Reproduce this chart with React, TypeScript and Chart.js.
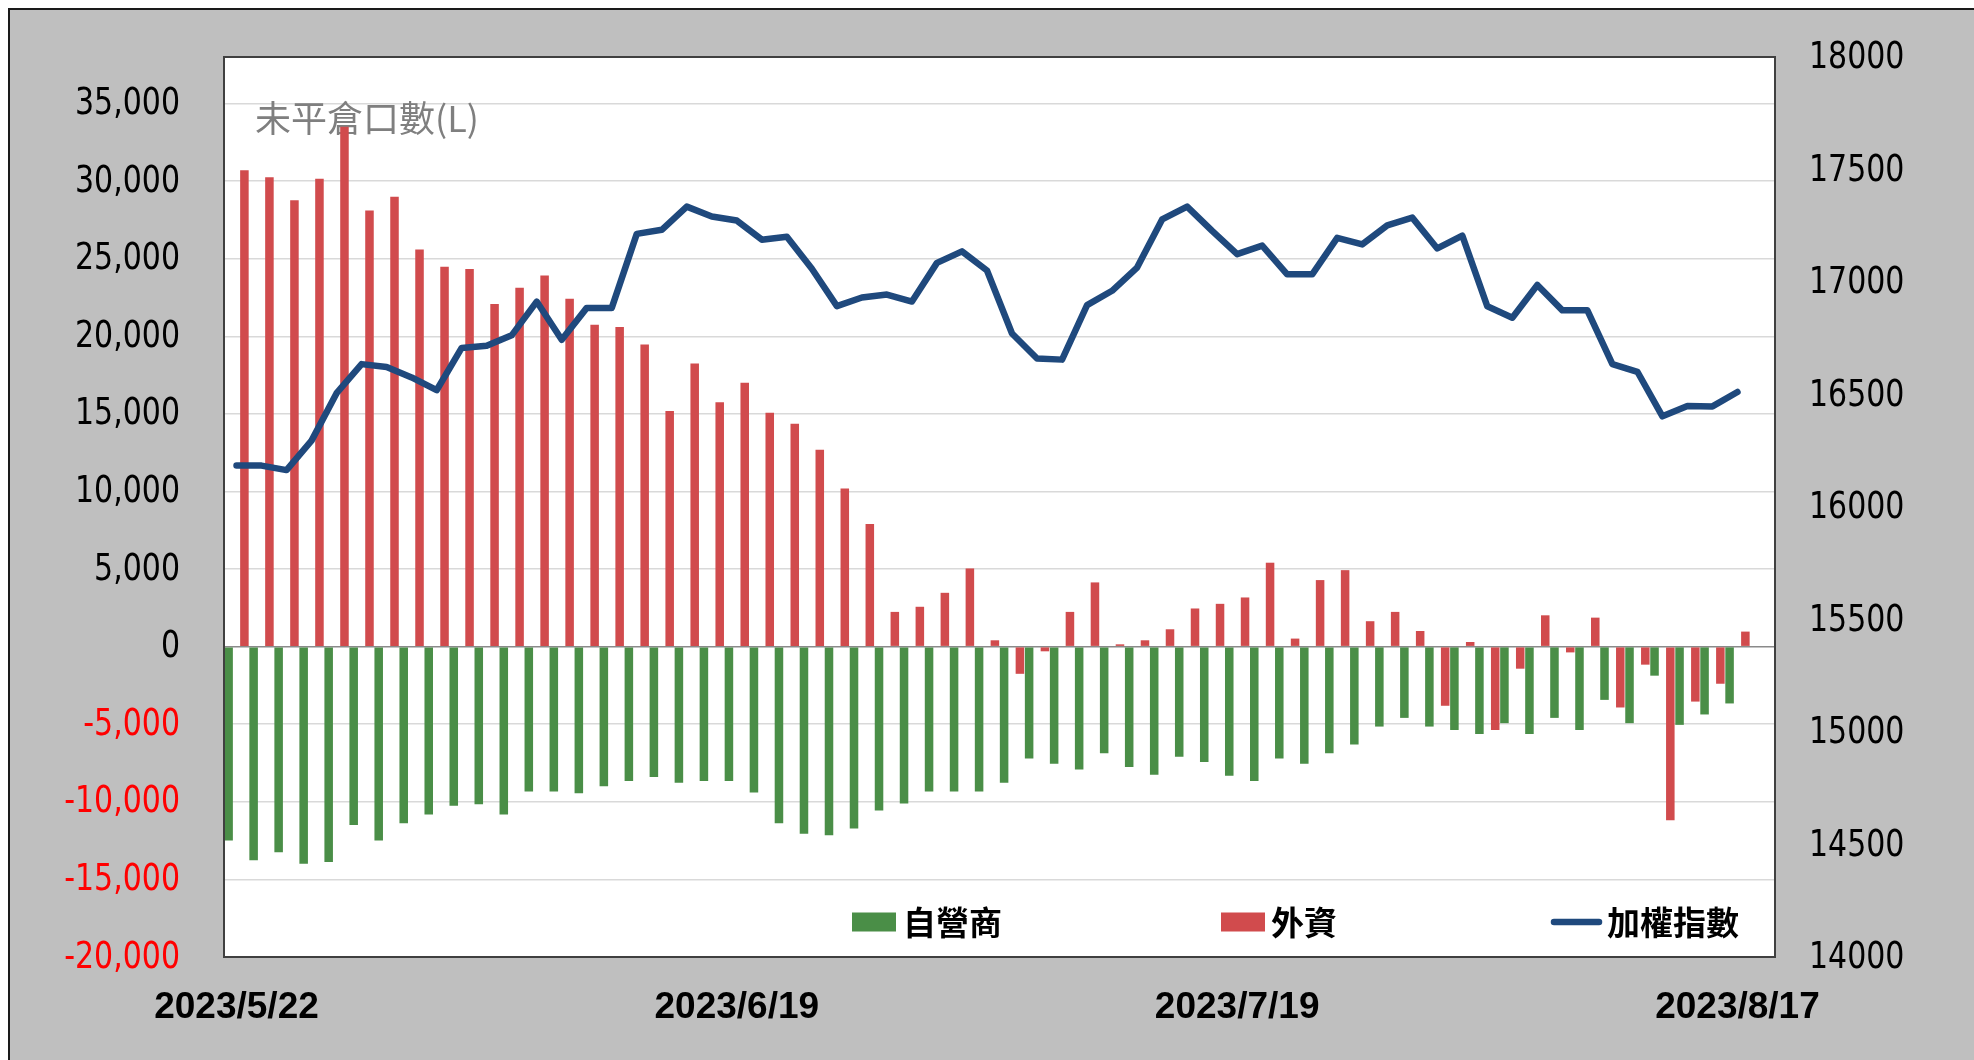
import React, { useEffect, useRef } from 'react';
import { Chart, registerables } from 'chart.js';

Chart.register(...registerables);

// Trading days (last slot is an empty spare category, as in the reference)
const dates = [
  '2023/5/22', '2023/5/23', '2023/5/24', '2023/5/25', '2023/5/26',
  '2023/5/29', '2023/5/30', '2023/5/31', '2023/6/1', '2023/6/2',
  '2023/6/5', '2023/6/6', '2023/6/7', '2023/6/8', '2023/6/9',
  '2023/6/12', '2023/6/13', '2023/6/14', '2023/6/15', '2023/6/16',
  '2023/6/19', '2023/6/20', '2023/6/21',
  '2023/6/26', '2023/6/27', '2023/6/28', '2023/6/29', '2023/6/30',
  '2023/7/3', '2023/7/4', '2023/7/5', '2023/7/6', '2023/7/7',
  '2023/7/10', '2023/7/11', '2023/7/12', '2023/7/13', '2023/7/14',
  '2023/7/17', '2023/7/18', '2023/7/19', '2023/7/20', '2023/7/21',
  '2023/7/24', '2023/7/25', '2023/7/26', '2023/7/27', '2023/7/28',
  '2023/7/31', '2023/8/1', '2023/8/2', '2023/8/4',
  '2023/8/7', '2023/8/8', '2023/8/9', '2023/8/10', '2023/8/11',
  '2023/8/14', '2023/8/15', '2023/8/16', '2023/8/17',
  '',
];

// 自營商 open interest (lots)
const dealerOI = [
  -12500, -13770, -13250, -13990, -13880, -11490, -12500, -11380, -10820, -10260,
  -10150, -10820, -9330, -9330, -9440, -8990, -8660, -8400, -8770, -8660,
  -8660, -9400, -11380, -12050, -12160, -11720, -10560, -10110, -9330, -9330,
  -9330, -8770, -7200, -7540, -7910, -6870, -7760, -8250, -7090, -7430,
  -8320, -8660, -7200, -7540, -6870, -6310, -5150, -4590, -5150, -5370,
  -5630, -4930, -5630, -4590, -5370, -3430, -4930, -1870, -5040, -4370,
  -3660,
];

// 外資 open interest (lots)
const foreignOI = [
  30700, 30250, 28770, 30150, 33500, 28100, 29000, 25600, 24480, 24330,
  22090, 23130, 23920, 22420, 20740, 20600, 19480, 15190, 18250, 15750,
  17010, 15070, 14360, 12690, 10190, 7910, 2240, 2570, 3470, 5040,
  410, -1750, -300, 2240, 4140, 150, 410, 1120, 2460, 2760,
  3170, 5410, 520, 4290, 4930, 1640, 2240, 1010, -3810, 300,
  -5370, -1420, 2020, -370, 1870, -3920, -1160, -11190, -3540, -2390,
  970,
];

// 加權指數
const taiex = [
  16184, 16184, 16164, 16295, 16506, 16635, 16622, 16576, 16519, 16707,
  16717, 16763, 16913, 16743, 16885, 16885, 17214, 17232, 17335, 17291,
  17273, 17188, 17201, 17059, 16893, 16931, 16944, 16913, 17085, 17136,
  17051, 16771, 16660, 16655, 16897, 16961, 17064, 17278, 17335, 17227,
  17124, 17162, 17034, 17034, 17196, 17167, 17252, 17286, 17149, 17206,
  16892, 16841, 16987, 16874, 16874, 16635, 16601, 16403, 16449, 16447,
  16511,
];

const leftTicks = [-20000, -15000, -10000, -5000, 0, 5000, 10000, 15000, 20000, 25000, 30000, 35000];
const rightTicks = [14000, 14500, 15000, 15500, 16000, 16500, 17000, 17500, 18000];

const seriesNames = ['自營商', '外資', '加權指數'];
const chartTitle = '未平倉口數(L)';
const leftAxisRange = [-20000, 38000];
const rightAxisRange = [14000, 18000];

const GREEN = '#4A8E47';
const RED = '#D14B4D';
const BLUE = '#1F497D';

const AREA = { left: 214, top: 47, right: 1765, bottom: 947 };
const TICK_FONT = '30px "DejaVu Sans"';
const TICK_STRETCH = 1.23;

function drawStretched(ctx: any, text: string, x: number, y: number, align: string, color: string) {
  ctx.save();
  ctx.translate(x, y);
  ctx.scale(1, TICK_STRETCH);
  ctx.font = TICK_FONT;
  ctx.textAlign = align;
  ctx.textBaseline = 'middle';
  ctx.fillStyle = color;
  ctx.fillText(text, 0, 0);
  ctx.restore();
}

const decorPlugin = {
  id: 'decor',
  beforeDraw(chart: any) {
    const { ctx, chartArea: a } = chart;
    ctx.save();
    ctx.fillStyle = '#ffffff';
    ctx.fillRect(a.left, a.top, a.right - a.left, a.bottom - a.top);
    ctx.restore();
  },
  beforeDatasetsDraw(chart: any) {
    const { ctx, chartArea: a } = chart;
    ctx.save();
    ctx.font = '36px "Noto Sans CJK TC"';
    ctx.fillStyle = '#7f7f7f';
    ctx.textBaseline = 'middle';
    ctx.textAlign = 'left';
    ctx.fillText(chartTitle, a.left + 31, a.top + 61);
    ctx.restore();
  },
  afterDraw(chart: any) {
    const { ctx, chartArea: a } = chart;
    // axis tick labels (slightly tall glyphs, as in the reference)
    const ys = chart.scales.y;
    leftTicks.forEach((v) => {
      drawStretched(ctx, v.toLocaleString('en-US'), a.left - 44, ys.getPixelForValue(v) + 1, 'right', v < 0 ? '#ff0000' : '#000000');
    });
    const yr = chart.scales.y1;
    rightTicks.forEach((v) => {
      drawStretched(ctx, String(v), a.right + 34, yr.getPixelForValue(v) + 1.5, 'left', '#000000');
    });

    ctx.save();
    // plot frame
    ctx.strokeStyle = '#404040';
    ctx.lineWidth = 2;
    ctx.strokeRect(a.left, a.top, a.right - a.left, a.bottom - a.top);
    // legend
    const ly = a.bottom - 35;
    ctx.font = 'bold 33px "Noto Sans CJK TC"';
    ctx.textBaseline = 'middle';
    ctx.textAlign = 'left';
    ctx.fillStyle = GREEN;
    ctx.fillRect(a.left + 628, ly - 9.5, 44, 19);
    ctx.fillStyle = '#000';
    ctx.fillText(seriesNames[0], a.left + 679, ly);
    ctx.fillStyle = RED;
    ctx.fillRect(a.left + 997, ly - 9.5, 44, 19);
    ctx.fillStyle = '#000';
    ctx.fillText(seriesNames[1], a.left + 1047, ly);
    ctx.strokeStyle = BLUE;
    ctx.lineWidth = 6.5;
    ctx.lineCap = 'round';
    ctx.beginPath();
    ctx.moveTo(a.left + 1330, ly);
    ctx.lineTo(a.left + 1375, ly);
    ctx.stroke();
    ctx.fillStyle = '#000';
    ctx.fillText(seriesNames[2], a.left + 1383, ly);
    ctx.restore();
  },
};

export default function App() {
  const ref = useRef<HTMLCanvasElement>(null);

  useEffect(() => {
    const canvas = ref.current;
    if (!canvas) return;
    const options: any = {
      responsive: false,
      maintainAspectRatio: false,
      devicePixelRatio: 1,
      animation: false,
      layout: { padding: { top: AREA.top, left: 0, right: 0, bottom: 0 } },
      plugins: {
        legend: { display: false },
        tooltip: { enabled: false },
        title: { display: false },
      },
      scales: {
        x: {
          type: 'category',
          offset: true,
          grid: { display: false, drawTicks: false },
          border: { display: false },
          ticks: {
            autoSkip: false,
            maxRotation: 0,
            minRotation: 0,
            padding: 29,
            color: '#000',
            font: { family: '"Liberation Sans"', size: 37, weight: 'bold' },
            callback: function (this: any, val: any, idx: number) {
              return idx % 20 === 0 ? this.getLabelForValue(val) : '';
            },
          },
          afterFit: (s: any) => {
            s.height = 1050 - AREA.bottom;
          },
        },
        y: {
          type: 'linear',
          position: 'left',
          min: leftAxisRange[0],
          max: leftAxisRange[1],
          bounds: 'data',
          afterBuildTicks: (s: any) => {
            s.ticks = leftTicks.map((v) => ({ value: v }));
          },
          grid: {
            drawTicks: false,
            color: (c: any) => (c.tick && c.tick.value === 0 ? '#8a8a8a' : '#d9d9d9'),
            lineWidth: 1.5,
          },
          border: { display: false },
          ticks: { display: false },
          afterFit: (s: any) => {
            s.width = AREA.left;
          },
        },
        y1: {
          type: 'linear',
          position: 'right',
          min: rightAxisRange[0],
          max: rightAxisRange[1],
          bounds: 'data',
          afterBuildTicks: (s: any) => {
            s.ticks = rightTicks.map((v) => ({ value: v }));
          },
          grid: { display: false, drawTicks: false },
          border: { display: false },
          ticks: { display: false },
          afterFit: (s: any) => {
            s.width = 1964 - AREA.right;
          },
        },
      },
    };
    const chart = new Chart(canvas, {
      type: 'bar',
      data: {
        labels: dates,
        datasets: [
          {
            type: 'bar',
            label: seriesNames[0],
            data: dealerOI,
            backgroundColor: GREEN,
            yAxisID: 'y',
            order: 1,
            categoryPercentage: 1.263,
            barPercentage: 0.54,
          } as any,
          {
            type: 'bar',
            label: seriesNames[1],
            data: foreignOI,
            backgroundColor: RED,
            yAxisID: 'y',
            order: 1,
            categoryPercentage: 1.263,
            barPercentage: 0.54,
          } as any,
          {
            type: 'line',
            label: seriesNames[2],
            data: taiex,
            borderColor: BLUE,
            backgroundColor: BLUE,
            borderWidth: 6.5,
            pointRadius: 0,
            tension: 0,
            borderJoinStyle: 'round',
            borderCapStyle: 'round',
            yAxisID: 'y1',
            order: 0,
          } as any,
        ],
      },
      options,
      plugins: [decorPlugin],
    });
    // nudge the layout so that the plot area lands exactly where intended
    for (let i = 0; i < 4; i++) {
      const ca = chart.chartArea;
      const dTop = AREA.top - ca.top;
      const dBottom = AREA.bottom - ca.bottom;
      if (Math.abs(dTop) < 0.5 && Math.abs(dBottom) < 0.5) break;
      const pad = (chart.config.options as any).layout.padding;
      pad.top = Math.max(0, pad.top + dTop);
      pad.bottom = Math.max(0, pad.bottom - dBottom);
      chart.update();
    }
    return () => chart.destroy();
  }, []);

  return (
    <div
      style={{
        position: 'fixed',
        left: 8,
        top: 8,
        width: 1966,
        height: 1052,
        boxSizing: 'border-box',
        borderLeft: '2px solid #1a1a1a',
        borderTop: '2px solid #1a1a1a',
        background: '#bfbfbf',
        overflow: 'hidden',
      }}
    >
      <canvas ref={ref} width={1964} height={1050} style={{ display: 'block', width: 1964, height: 1050 }} />
    </div>
  );
}
